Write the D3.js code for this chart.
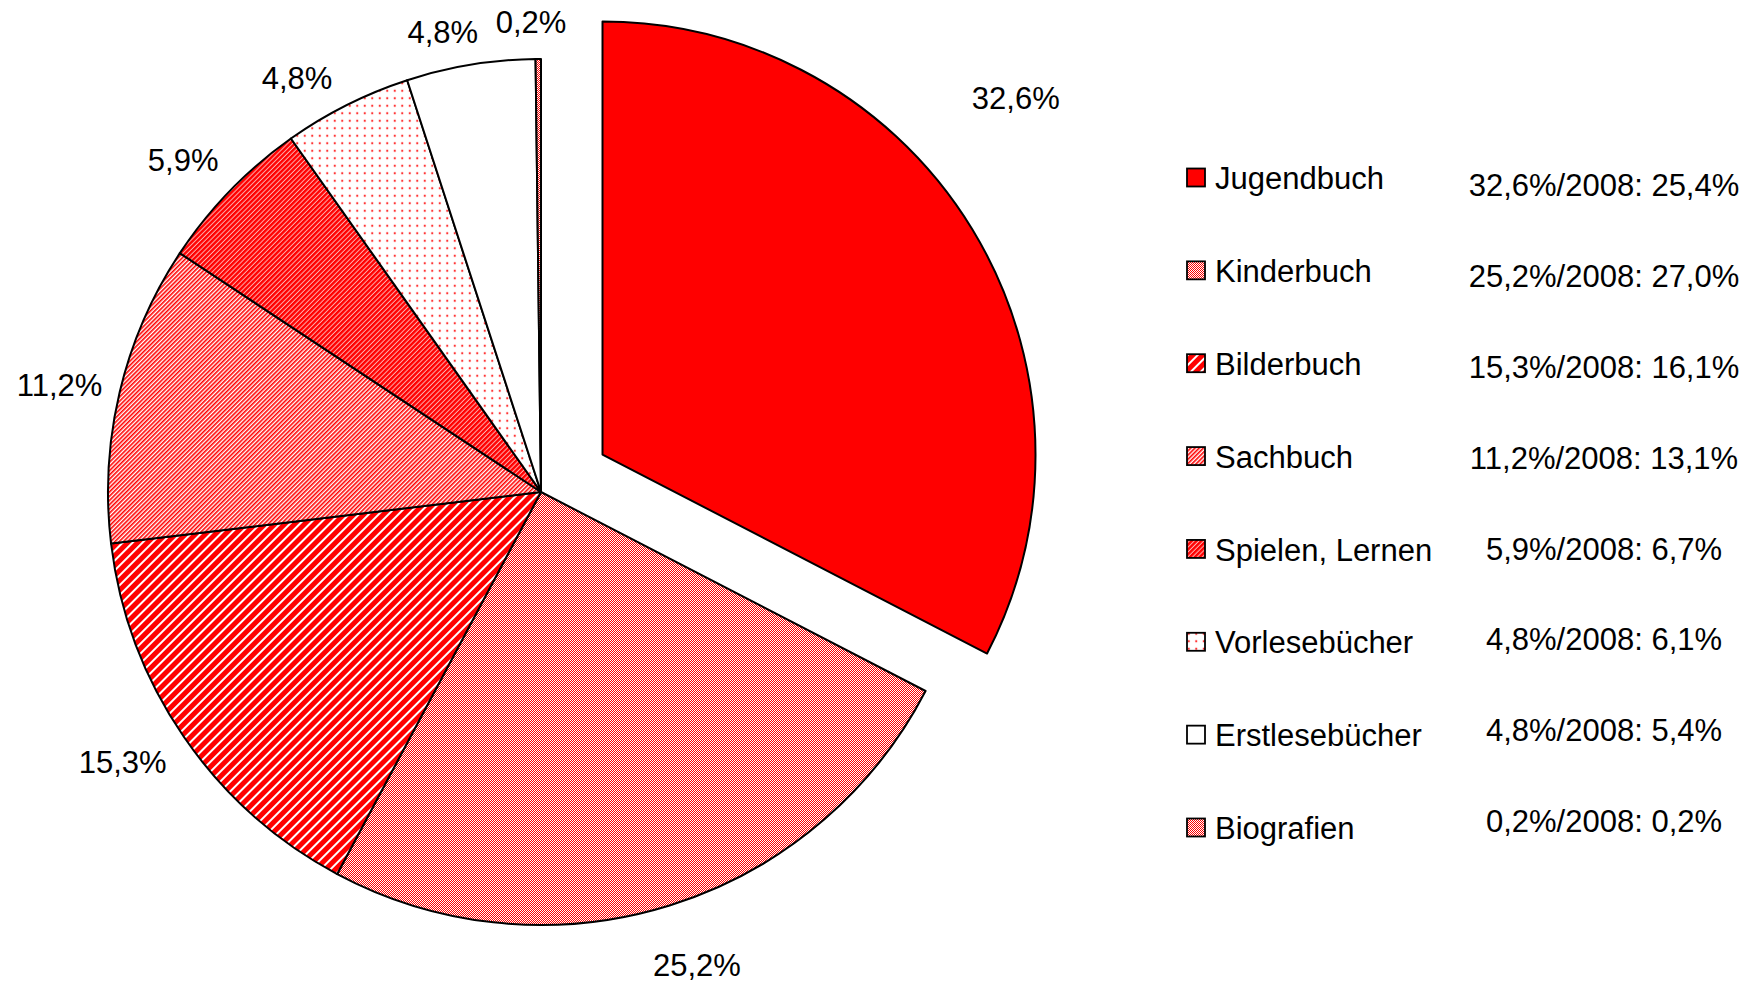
<!DOCTYPE html>
<html>
<head>
<meta charset="utf-8">
<script src="https://cdn.jsdelivr.net/npm/d3@7"></script>
<style>
    body { margin: 0; background: #fff; }
    text { font-family: "Liberation Sans", Arial, sans-serif; fill: #000; }
</style>
</head>
<body>
<div id="chart"></div>
<script>
"use strict";

// Data
const categories = ["Jugendbuch", "Kinderbuch", "Bilderbuch", "Sachbuch",
                    "Spielen, Lernen", "Vorlesebücher", "Erstlesebücher", "Biografien"];
const shares2009 = [32.6, 25.2, 15.3, 11.2, 5.9, 4.8, 4.8, 0.2];
const shares2008 = [25.4, 27.0, 16.1, 13.1, 6.7, 6.1, 5.4, 0.2];
const fills = ["solid", "check", "stripeWide", "stripeThin", "stripeDense", "dots", "white", "check"];

const fmt = v => v.toFixed(1).replace(".", ",") + "%";

/*
 * Layout
 */
const W = 1749, H = 988;
const CX = 541, CY = 492, R = 433;
const EXPLODE = 72;
const FONT = 31;
const LABEL_GAP = 30;

// Excel moves some labels around on its own
const LABEL_NUDGE = {
    "Jugendbuch":     { angle: -11,  gap: 82 },
    "Kinderbuch":     { angle: 0,    gap: 48 },
    "Sachbuch":       { angle: 0,    gap: 19 },
    "Vorlesebücher":  { angle: -2.8, gap: 28 },
    "Erstlesebücher": { angle: -2.2, gap: 22 },
    "Biografien":     { angle: -0.8, gap: 23 },
};

const svg = d3.select("#chart")
  .append("svg")
    .attr("width", W)
    .attr("height", H);

/*
 * Fill patterns
 */
const defs = svg.append("defs");

function stripes(id, size, redWidth, lightColor) {
    const p = defs.append("pattern")
        .attr("id", id)
        .attr("patternUnits", "userSpaceOnUse")
        .attr("width", size)
        .attr("height", size)
        .attr("patternTransform", "rotate(45)");
    p.append("rect").attr("width", size).attr("height", size).attr("fill", lightColor);
    p.append("rect").attr("width", redWidth).attr("height", size).attr("fill", "#ff0000");
}

stripes("stripeWide", 7, 5, "#ffffff");
stripes("stripeThin", 3, 1.6, "#ffffff");
stripes("stripeDense", 3.4, 2.4, "#ffb0b0");

const check = defs.append("pattern")
    .attr("id", "check")
    .attr("patternUnits", "userSpaceOnUse")
    .attr("width", 2)
    .attr("height", 2);
check.append("rect").attr("width", 2).attr("height", 2).attr("fill", "#ffffff");
check.append("rect").attr("width", 1).attr("height", 1).attr("fill", "#ff0000");
check.append("rect").attr("x", 1).attr("y", 1).attr("width", 1).attr("height", 1).attr("fill", "#ff0000");

const dots = defs.append("pattern")
    .attr("id", "dots")
    .attr("patternUnits", "userSpaceOnUse")
    .attr("width", 7.5)
    .attr("height", 7.5);
dots.append("rect").attr("width", 7.5).attr("height", 7.5).attr("fill", "#ffffff");
dots.append("circle").attr("cx", 3.75).attr("cy", 3.75).attr("r", 1.1).attr("fill", "#ff3030");

function fillOf(kind) {
    if (kind === "solid") return "#ff0000";
    if (kind === "white") return "#ffffff";
    return `url(#${kind})`;
}

/*
 * Pie
 */
const data = categories.map((c, i) => ({
    name: c, value: shares2009[i], prev: shares2008[i], fill: fills[i]
}));

const pie = d3.pie()
    .sort(null)
    .value(d => d.value);

const arcs = pie(data);

const arc = d3.arc()
    .innerRadius(0)
    .outerRadius(R);

function offset(a) {
    if (a.index !== 0) return [0, 0];
    const mid = (a.startAngle + a.endAngle) / 2;
    return [Math.sin(mid) * EXPLODE, -Math.cos(mid) * EXPLODE];
}

const g = svg.append("g")
    .attr("transform", `translate(${CX},${CY})`);

g.selectAll(".slice")
    .data(arcs)
  .enter()
  .append("path")
    .attr("class", "slice")
    .attr("transform", d => `translate(${offset(d)})`)
    .attr("d", arc)
    .attr("fill", d => fillOf(d.data.fill))
    .attr("stroke", "#000")
    .attr("stroke-width", 2)
    .attr("stroke-linejoin", "round");

// labels: text box kept at a gap outside the rim
const labels = g.selectAll(".label")
    .data(arcs)
  .enter()
  .append("text")
    .attr("class", "label")
    .attr("text-anchor", "middle")
    .attr("dy", "0.36em")
    .style("font-size", FONT + "px")
    .text(d => fmt(d.data.value));

labels.attr("transform", function(d) {
    const n = LABEL_NUDGE[d.data.name] || { angle: 0, gap: LABEL_GAP };
    const mid = (d.startAngle + d.endAngle) / 2 + n.angle * Math.PI / 180;
    const [ox, oy] = offset(d);
    const box = this.getBBox();
    const sx = Math.sin(mid), sy = -Math.cos(mid);
    const x = ox + sx * (R + n.gap) + sx * box.width / 2;
    const y = oy + sy * (R + n.gap) + sy * box.height / 2.4;
    return `translate(${x},${y})`;
});

/*
 * Legend
 */
const legendY = d3.scalePoint()
    .domain(categories)
    .range([178, 828]);

const noteY = d3.scalePoint()
    .domain(categories)
    .range([185, 821]);

const legend = svg.append("g");

legend.selectAll(".swatch")
    .data(data)
  .enter()
  .append("rect")
    .attr("class", "swatch")
    .attr("x", 1187)
    .attr("y", d => legendY(d.name) - 9.5)
    .attr("width", 18)
    .attr("height", 18)
    .attr("fill", d => fillOf(d.fill))
    .attr("stroke", "#000")
    .attr("stroke-width", 1.8);

legend.selectAll(".name")
    .data(data)
  .enter()
  .append("text")
    .attr("class", "name")
    .attr("x", 1215)
    .attr("y", d => legendY(d.name))
    .attr("dy", "0.36em")
    .style("font-size", FONT + "px")
    .text(d => d.name);

legend.selectAll(".note")
    .data(data)
  .enter()
  .append("text")
    .attr("class", "note")
    .attr("x", 1604)
    .attr("y", d => noteY(d.name))
    .attr("dy", "0.36em")
    .attr("text-anchor", "middle")
    .style("font-size", FONT + "px")
    .text(d => `${fmt(d.value)}/2008: ${fmt(d.prev)}`);
</script>
</body>
</html>
